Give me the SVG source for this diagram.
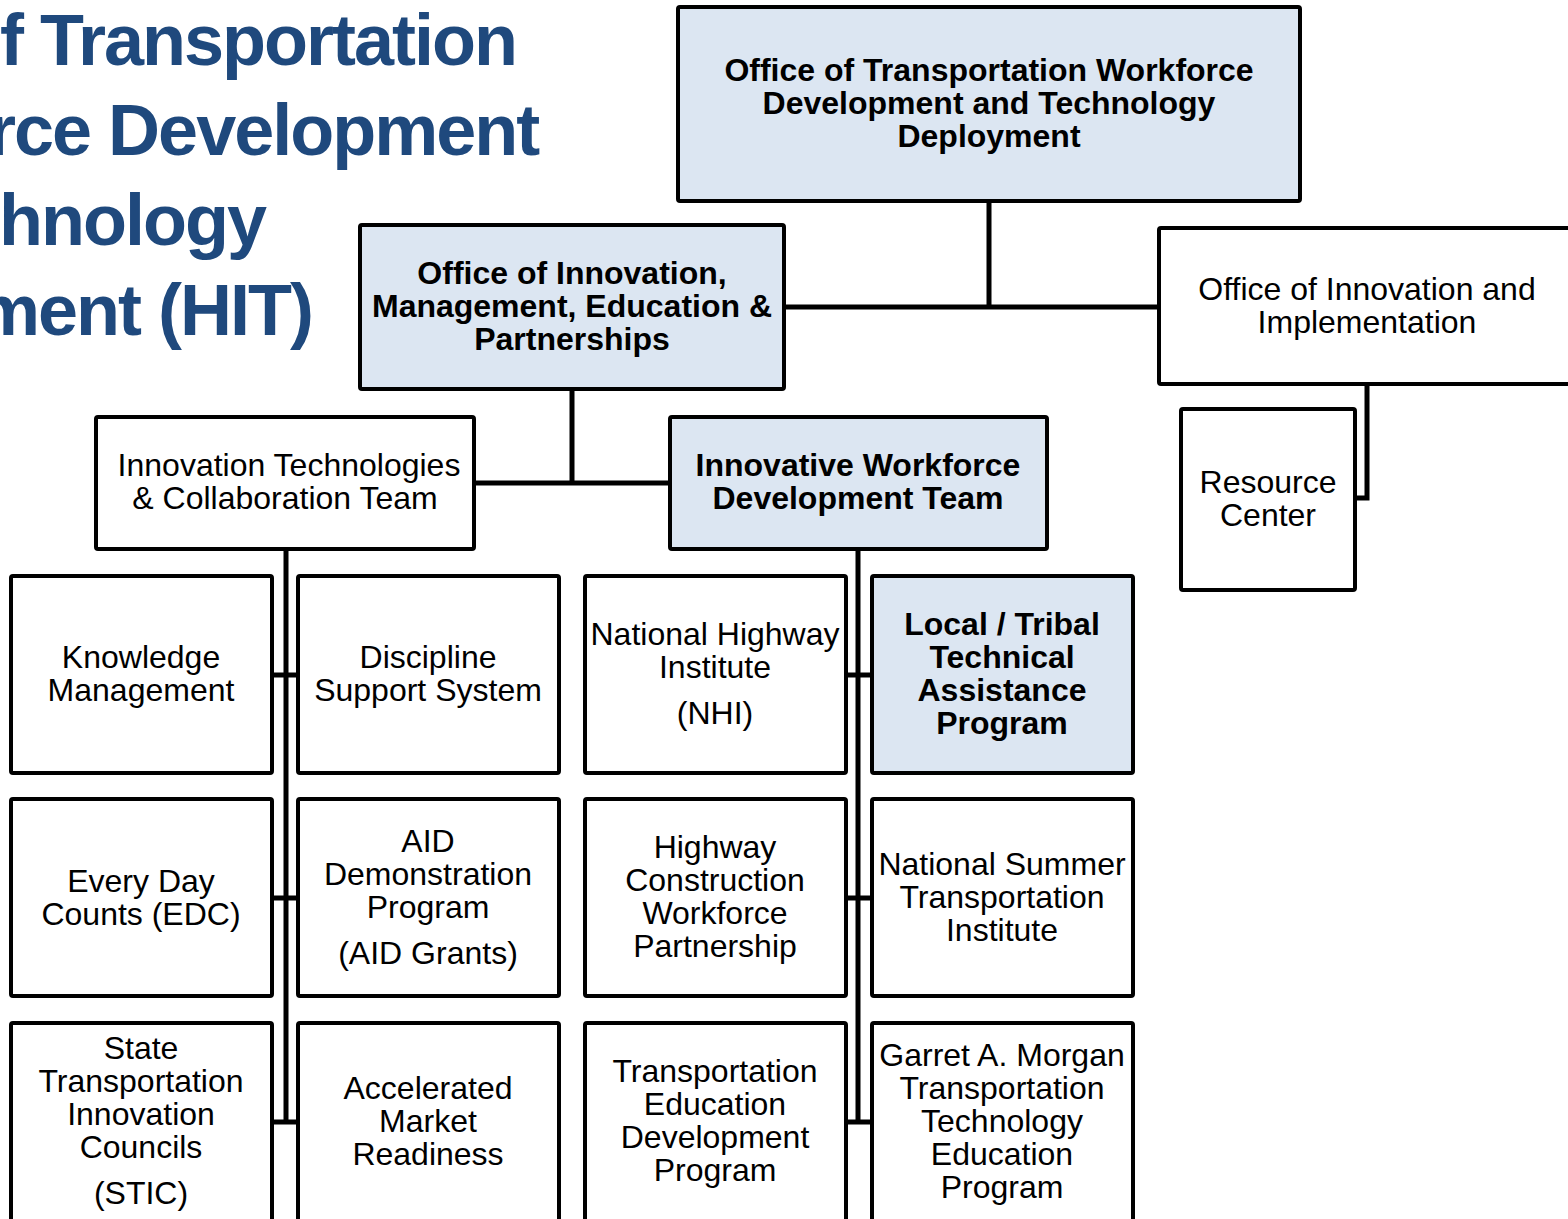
<svg xmlns="http://www.w3.org/2000/svg" width="1568" height="1219" viewBox="0 0 1568 1219">
<style>
.box{fill:#ffffff;stroke:#000;stroke-width:4}
.hl{fill:#dce6f2;stroke:#000;stroke-width:4}
.t{font-family:"Liberation Sans",Arial,sans-serif;font-size:32px;fill:#000;text-anchor:middle}
.b{font-family:"Liberation Sans",Arial,sans-serif;font-size:32px;font-weight:bold;fill:#000;text-anchor:middle}
.title{font-family:"Liberation Sans",Arial,sans-serif;font-size:72px;font-weight:bold;fill:#1f497d;letter-spacing:-2px}
.c{fill:none;stroke:#000;stroke-width:5}
</style>
<rect width="1568" height="1219" fill="#ffffff"/>
<g id="title">
<text class="title" x="0" y="65">f Transportation</text>
<text class="title" x="-12" y="155">rce Development</text>
<text class="title" x="-1" y="245">hnology</text>
<text class="title" x="-24" y="335">ment (HIT)</text>
</g>
<g id="connectors">
<path class="c" d="M989 201 V307 M784 307 H1159"/>
<path class="c" d="M572 389 V483 M474 483 H670"/>
<path class="c" d="M1367 384 V498 H1355"/>
<path class="c" d="M286 549 V1124 M272 675 H298 M272 898 H298 M272 1122 H298"/>
<path class="c" d="M858 549 V1124 M846 675 H872 M846 898 H872 M846 1122 H872"/>
</g>
<g id="n-hit">
<rect class="hl" x="678" y="7" width="622" height="194" rx="2"/>
<text class="b" x="989" y="81">Office of Transportation Workforce</text>
<text class="b" x="989" y="114">Development and Technology</text>
<text class="b" x="989" y="147">Deployment</text>
</g>
<g id="n-imep">
<rect class="hl" x="360" y="225" width="424" height="164" rx="2"/>
<text class="b" x="572" y="284">Office of Innovation,</text>
<text class="b" x="572" y="317">Management, Education &amp;</text>
<text class="b" x="572" y="350">Partnerships</text>
</g>
<g id="n-oii">
<rect class="box" x="1159" y="228" width="420" height="156" rx="2"/>
<text class="t" x="1367" y="300">Office of Innovation and</text>
<text class="t" x="1367" y="333">Implementation</text>
</g>
<g id="n-rc">
<rect class="box" x="1181" y="409" width="174" height="181" rx="2"/>
<text class="t" x="1268" y="493">Resource</text>
<text class="t" x="1268" y="526">Center</text>
</g>
<g id="n-itct">
<rect class="box" x="96" y="417" width="378" height="132" rx="2"/>
<text class="t" x="289" y="476">Innovation Technologies</text>
<text class="t" x="285" y="509">&amp; Collaboration Team</text>
</g>
<g id="n-iwdt">
<rect class="hl" x="670" y="417" width="377" height="132" rx="2"/>
<text class="b" x="858" y="476">Innovative Workforce</text>
<text class="b" x="858" y="509">Development Team</text>
</g>
<g id="n-km">
<rect class="box" x="11" y="576" width="261" height="197" rx="2"/>
<text class="t" x="141" y="668">Knowledge</text>
<text class="t" x="141" y="701">Management</text>
</g>
<g id="n-dss">
<rect class="box" x="298" y="576" width="261" height="197" rx="2"/>
<text class="t" x="428" y="668">Discipline</text>
<text class="t" x="428" y="701">Support System</text>
</g>
<g id="n-nhi">
<rect class="box" x="585" y="576" width="261" height="197" rx="2"/>
<text class="t" x="715" y="645">National Highway</text>
<text class="t" x="715" y="678">Institute</text>
<text class="t" x="715" y="724">(NHI)</text>
</g>
<g id="n-ltap">
<rect class="hl" x="872" y="576" width="261" height="197" rx="2"/>
<text class="b" x="1002" y="635">Local / Tribal</text>
<text class="b" x="1002" y="668">Technical</text>
<text class="b" x="1002" y="701">Assistance</text>
<text class="b" x="1002" y="734">Program</text>
</g>
<g id="n-edc">
<rect class="box" x="11" y="799" width="261" height="197" rx="2"/>
<text class="t" x="141" y="892">Every Day</text>
<text class="t" x="141" y="925">Counts (EDC)</text>
</g>
<g id="n-aid">
<rect class="box" x="298" y="799" width="261" height="197" rx="2"/>
<text class="t" x="428" y="852">AID</text>
<text class="t" x="428" y="885">Demonstration</text>
<text class="t" x="428" y="918">Program</text>
<text class="t" x="428" y="964">(AID Grants)</text>
</g>
<g id="n-hcwp">
<rect class="box" x="585" y="799" width="261" height="197" rx="2"/>
<text class="t" x="715" y="858">Highway</text>
<text class="t" x="715" y="891">Construction</text>
<text class="t" x="715" y="924">Workforce</text>
<text class="t" x="715" y="957">Partnership</text>
</g>
<g id="n-nsti">
<rect class="box" x="872" y="799" width="261" height="197" rx="2"/>
<text class="t" x="1002" y="875">National Summer</text>
<text class="t" x="1002" y="908">Transportation</text>
<text class="t" x="1002" y="941">Institute</text>
</g>
<g id="n-stic">
<rect class="box" x="11" y="1023" width="261" height="220" rx="2"/>
<text class="t" x="141" y="1059">State</text>
<text class="t" x="141" y="1092">Transportation</text>
<text class="t" x="141" y="1125">Innovation</text>
<text class="t" x="141" y="1158">Councils</text>
<text class="t" x="141" y="1204">(STIC)</text>
</g>
<g id="n-amr">
<rect class="box" x="298" y="1023" width="261" height="220" rx="2"/>
<text class="t" x="428" y="1099">Accelerated</text>
<text class="t" x="428" y="1132">Market</text>
<text class="t" x="428" y="1165">Readiness</text>
</g>
<g id="n-tedp">
<rect class="box" x="585" y="1023" width="261" height="220" rx="2"/>
<text class="t" x="715" y="1082">Transportation</text>
<text class="t" x="715" y="1115">Education</text>
<text class="t" x="715" y="1148">Development</text>
<text class="t" x="715" y="1181">Program</text>
</g>
<g id="n-gam">
<rect class="box" x="872" y="1023" width="261" height="220" rx="2"/>
<text class="t" x="1002" y="1066">Garret A. Morgan</text>
<text class="t" x="1002" y="1099">Transportation</text>
<text class="t" x="1002" y="1132">Technology</text>
<text class="t" x="1002" y="1165">Education</text>
<text class="t" x="1002" y="1198">Program</text>
</g>
</svg>
